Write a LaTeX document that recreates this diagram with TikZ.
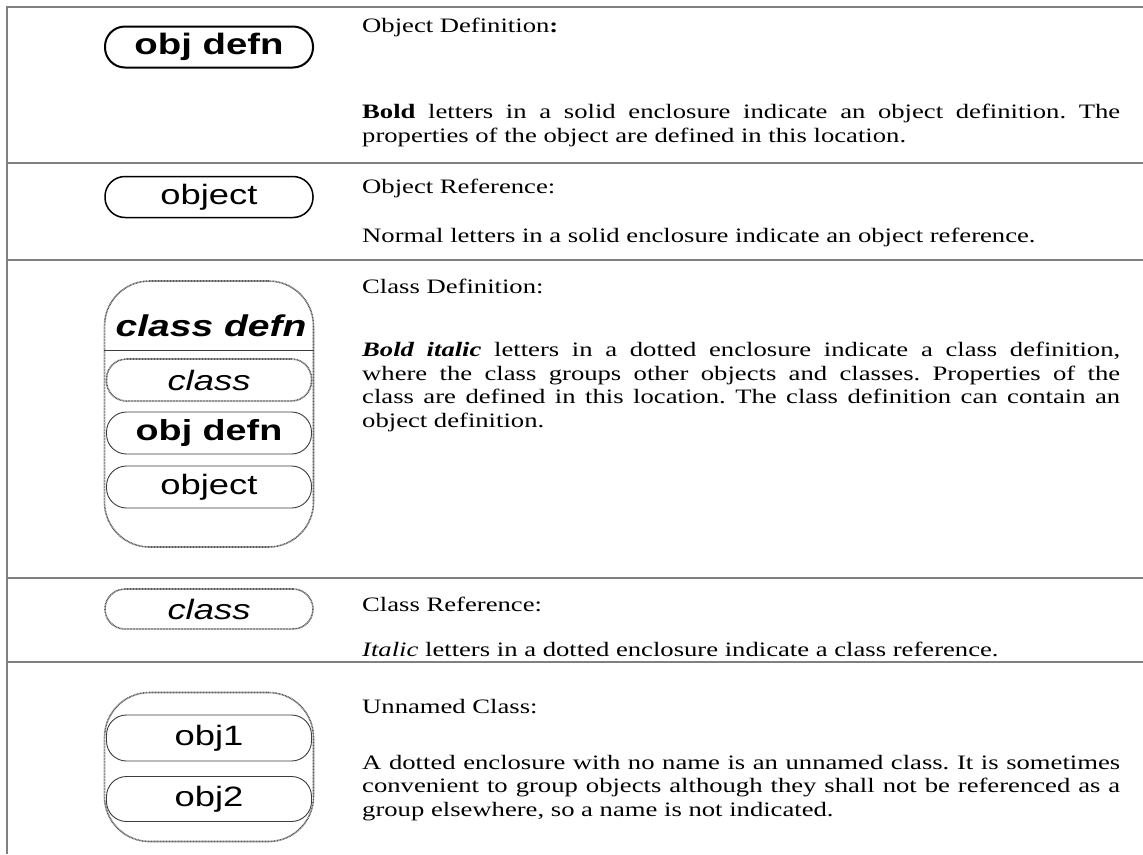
\documentclass[tikz,border=0pt]{standalone}
\usepackage{fontspec}
\setmainfont[FakeStretch=1.3]{Liberation Serif}
\newfontfamily\pillfont[FakeStretch=1.3]{Liberation Sans}
\usetikzlibrary{positioning}
\definecolor{rulegray}{HTML}{808080}
\definecolor{dotgray}{HTML}{5A5A5A}
\definecolor{thingray}{HTML}{3C3C3C}
\hyphenpenalty=10000
\exhyphenpenalty=10000
\frenchspacing

\tikzset{
  rule/.style={draw=rulegray, line width=1.5pt},
  pill/.style={draw, rectangle, rounded corners=20pt, minimum width=208pt,
    minimum height=41pt, inner sep=0pt, font=\pillfont\fontsize{28}{30}\selectfont},
  objdefn/.style={pill, line width=2pt, font=\pillfont\fontsize{29.5}{30}\selectfont},
  objref/.style={pill, line width=1.5pt},
  innerpill/.style={pill, draw=thingray, line width=0.9pt, minimum width=205pt, minimum height=42pt},
  classpill/.style={pill, draw=dotgray, dash pattern=on 0.9pt off 0.6pt, line width=1.6pt},
  enclosure/.style={draw=dotgray, dash pattern=on 0.9pt off 0.6pt, line width=1.6pt,
    rectangle, rounded corners=45pt, minimum width=209pt, inner sep=0pt},
  innerline/.style={draw=thingray, line width=0.9pt},
  heading/.style={anchor=base west, inner sep=0pt, font=\fontsize{20.5}{23.5}\selectfont},
  para/.style={anchor=north west, inner sep=0pt, text width=758pt, align=justify,
    font=\fontsize{20.5}{23.5}\selectfont},
}

\begin{document}
\begin{tikzpicture}[x=1pt,y=-1pt]
  \useasboundingbox (0,0) rectangle (1143,854);
  % table rules
  \draw[rule] (1143,7) -- (7,7) -- (7,854);
  \foreach \y in {163,260,578,662}{
    \draw[rule] (7,\y) -- (1143,\y);
  }

  % object definition
  \node[objdefn] (odef) at (209,47) {\bfseries obj defn};
  \node[heading] (odefhead) at (362,32) {Object Definition\textbf{:}};
  \node[para] (odeftext) at (362,104) {\textbf{Bold} letters in a solid enclosure indicate an object definition. The\linebreak properties of the object are defined in this location.};

  % object reference
  \node[objref] (oref) at (209,197) {object};
  \node[heading] (orefhead) at (362,193) {Object Reference:};
  \node[para] (oreftext) at (362,228) {Normal letters in a solid enclosure indicate an object reference.};

  % class definition
  \node[enclosure, minimum height=266pt] (cdef) at (209,414) {};
  \node[font=\pillfont\fontsize{30}{30}\selectfont] (cdefname) at (211,326) {\bfseries\itshape class defn};
  \coordinate (cdefsep) at (209,350);
  \draw[innerline] (cdefsep -| cdef.west) -- (cdefsep -| cdef.east);
  \node[classpill, minimum width=205pt, minimum height=42pt] (cdefclass) at (209,380) {\itshape class};
  \node[innerpill, font=\pillfont\fontsize{29}{30}\selectfont] (cdefobj) at (209,433) {\bfseries obj defn};
  \node[innerpill] (cdefref) at (209,487) {object};
  \node[heading] (cdefhead) at (362,293) {Class Definition:};
  \node[para] (cdeftext) at (362,342) {\textbf{\textit{Bold italic}} letters in a dotted enclosure indicate a class definition,\linebreak where the class groups other objects and classes. Properties of the\linebreak class are defined in this location. The class definition can contain an\linebreak object definition.};

  % class reference
  \node[classpill, minimum height=40pt] (cref) at (209,609) {\itshape class};
  \node[heading] (crefhead) at (362,611) {Class Reference:};
  \node[para] (creftext) at (362,642) {\textit{Italic} letters in a dotted enclosure indicate a class reference.};

  % unnamed class
  \node[enclosure, minimum height=149pt] (unnamed) at (209,767) {};
  \node[innerpill, minimum height=46pt] (objone) at (209,738) {obj1};
  \node[innerpill, minimum height=45pt] (objtwo) at (209,799) {obj2};
  \node[heading] (unnamedhead) at (362,713) {Unnamed Class:};
  \node[para] (unnamedtext) at (362,755) {A dotted enclosure with no name is an unnamed class. It is sometimes\linebreak convenient to group objects although they shall not be referenced as a\linebreak group elsewhere, so a name is not indicated.};
\end{tikzpicture}
\end{document}
